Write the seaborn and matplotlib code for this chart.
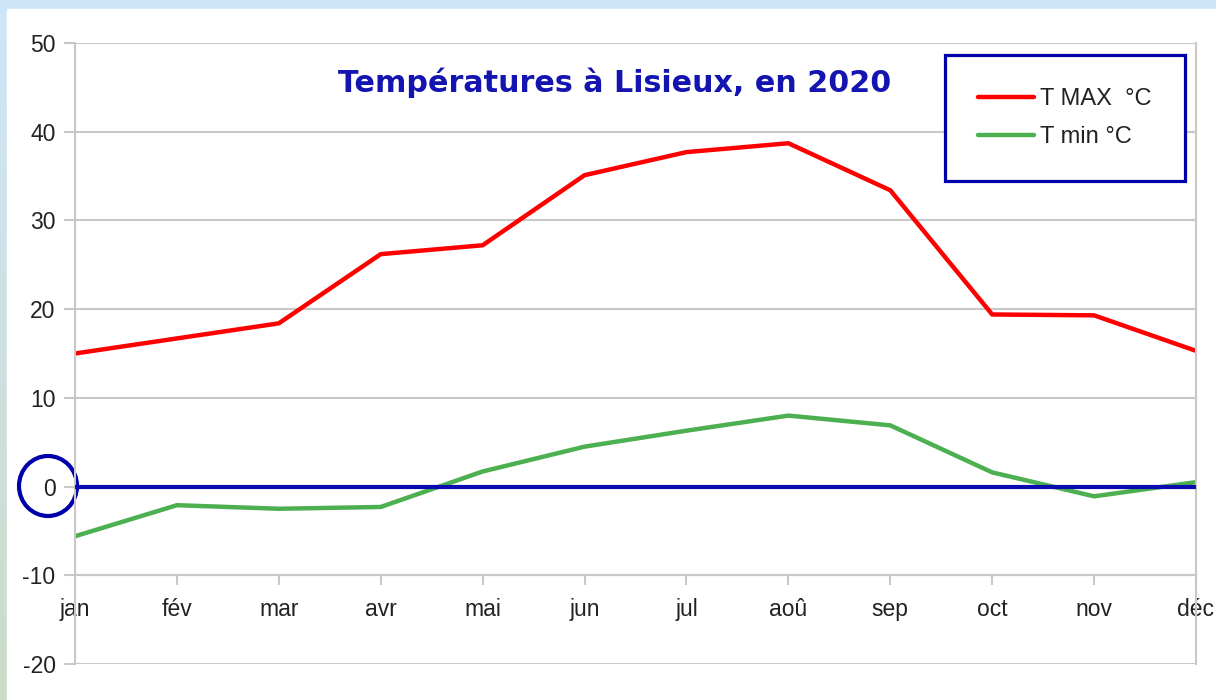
import numpy as np
import pandas as pd
import matplotlib.pyplot as plt
from matplotlib.patches import Rectangle, Ellipse
import seaborn as sns

mois = ["jan", "fév", "mar", "avr", "mai", "jun", "jul", "aoû", "sep", "oct", "nov", "déc"]
t_max = [15.0, 16.7, 18.4, 26.2, 27.2, 35.1, 37.7, 38.7, 33.4, 19.4, 19.3, 15.3]
t_min = [-5.6, -2.1, -2.5, -2.3, 1.7, 4.5, 6.3, 8.0, 6.9, 1.6, -1.1, 0.5]
series = ["T MAX  °C", "T min °C"]
y_ticks = [-20, -10, 0, 10, 20, 30, 40, 50]

df = pd.DataFrame({
    "mois": mois * 2,
    "temp": t_max + t_min,
    "serie": [series[0]] * len(mois) + [series[1]] * len(mois),
})

sns.set_theme(style="white")
plt.rcParams["font.family"] = ["Liberation Sans", "DejaVu Sans"]
plt.rcParams["axes.unicode_minus"] = False

W, H = 1216, 700
fig = plt.figure(figsize=(W / 100, H / 100), dpi=100)

# background: light gradient + white panel
bg = fig.add_axes([0, 0, 1, 1], zorder=-5)
grad = np.linspace(0, 1, 256).reshape(-1, 1)
top = np.array([0.81, 0.90, 0.98])
bot = np.array([0.80, 0.86, 0.78])
img = top[None, None, :] * (1 - grad[:, :, None]) + bot[None, None, :] * grad[:, :, None]
bg.imshow(img, aspect="auto", extent=[0, 1, 0, 1], origin="upper")
bg.add_patch(Rectangle((7 / W, 0), 1, 1 - 9 / H, color="white"))
bg.set_xlim(0, 1)
bg.set_ylim(0, 1)
bg.axis("off")

ax = fig.add_axes([75 / W, 1 - 664 / H, (1196 - 75) / W, (664 - 43) / H])
ax.set_facecolor("white")

sns.lineplot(data=df, x="mois", y="temp", hue="serie", sort=False,
             palette=["#ff0000", "#4caf50"], linewidth=3.2, ax=ax)

ax.axhline(0, color="#0a0ab0", lw=3, zorder=3)

ax.set_xlim(0, len(mois) - 1)
ax.set_ylim(-20, 50)
ax.set_yticks(y_ticks)
ax.set_xlabel("")
ax.set_ylabel("")

grid_c = "#c8c8c8"
ax.yaxis.grid(True, color=grid_c, lw=1.5)
ax.xaxis.grid(False)
ax.spines["top"].set_visible(False)
for s in ["left", "right", "bottom"]:
    ax.spines[s].set_color(grid_c)
    ax.spines[s].set_linewidth(1.5)
ax.spines["bottom"].set_position(("data", -10))

ax.tick_params(axis="y", left=True, length=8, width=1.5, color=grid_c, pad=6,
               labelsize=16.5, labelcolor="#222222")
ax.tick_params(axis="x", bottom=True, length=7, width=1.5, color=grid_c, pad=9,
               labelsize=16.5, labelcolor="#222222")

ax.text(0.481, 0.936, "Températures à Lisieux, en 2020", transform=ax.transAxes,
        ha="center", va="center", fontsize=21.7, fontweight="bold",
        color="#1414b0", family="DejaVu Sans")

handles, labels = ax.get_legend_handles_labels()
leg = ax.legend(handles, labels, loc="upper right", bbox_to_anchor=(0.99, 0.981),
                fontsize=17, frameon=True, fancybox=False, framealpha=1,
                borderpad=1.4, handlelength=2.4, handletextpad=0.25,
                labelspacing=0.7, borderaxespad=0)
leg.get_frame().set_edgecolor("#0000aa")
leg.get_frame().set_linewidth(2.3)
for t in leg.get_texts():
    t.set_color("#222222")
for ln in leg.get_lines():
    ln.set_linewidth(3.2)

ax.add_artist(Ellipse((48 / W, 1 - 486 / H), 58 / W, 60 / H, transform=fig.transFigure,
                      fill=False, edgecolor="#0000aa", lw=3, clip_on=False))

fig.savefig("out.png", dpi=100)
